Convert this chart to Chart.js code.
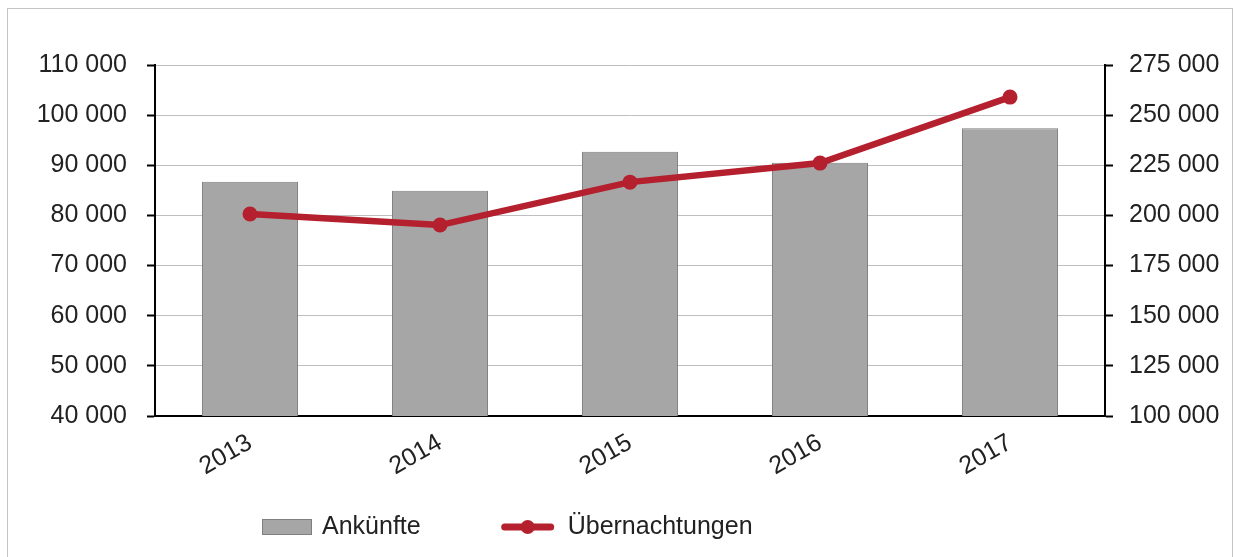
<!DOCTYPE html>
<html>
<head>
<meta charset="utf-8">
<script src="https://cdn.jsdelivr.net/npm/chart.js@4"></script>
<style>
body { margin: 0; background: #fff; }
#frame { position: absolute; left: 7px; top: 8px; width: 1224px; height: 570px; border: 1px solid #c4c4c4; }
#wrap { position: absolute; left: 0; top: 0; width: 1236px; height: 557px; }
</style>
</head>
<body>
<div id="frame"></div>
<div id="wrap"><canvas id="chart"></canvas></div>
<script>
// values
const years = ["2013", "2014", "2015", "2016", "2017"];
const arrivals = [86700, 84900, 92700, 90500, 97400];
const overnights = [200700, 195200, 216600, 226100, 259000];
const seriesNames = ["Ankünfte", "Übernachtungen"];

const barGrey = "#a6a6a6";
const lineRed = "#b5202e";
const font = { family: "'Liberation Sans', Arial, sans-serif", size: 25 };

function spaced(v) {
    return String(v).replace(/\B(?=(\d{3})+(?!\d))/g, " ");
}

// legend drawn under the axis, like the original office chart
const bottomLegend = {
    id: "bottomLegend",
    afterDraw(chart) {
        const ctx = chart.ctx;
        const y = chart.height - 30;
        let x = 262;
        ctx.save();
        ctx.font = font.size + "px " + font.family;
        ctx.textBaseline = "middle";

        ctx.fillStyle = barGrey;
        ctx.fillRect(x, y - 8, 50, 16);
        ctx.strokeStyle = "#7f7f7f";
        ctx.lineWidth = 1;
        ctx.strokeRect(x + 0.5, y - 7.5, 49, 15);
        ctx.fillStyle = "#222";
        ctx.fillText(seriesNames[0], x + 60, y);
        x += 60 + ctx.measureText(seriesNames[0]).width + 82;

        ctx.strokeStyle = lineRed;
        ctx.lineWidth = 7;
        ctx.lineCap = "round";
        ctx.beginPath();
        ctx.moveTo(x + 2, y);
        ctx.lineTo(x + 48, y);
        ctx.stroke();
        ctx.fillStyle = lineRed;
        ctx.beginPath();
        ctx.arc(x + 25, y, 7, 0, Math.PI * 2);
        ctx.fill();
        ctx.fillStyle = "#222";
        ctx.fillText(seriesNames[1], x + 65, y);
        ctx.restore();
    }
};

new Chart(document.getElementById("chart"), {
type: "bar",
data: {
    labels: years,
    datasets: [{
        type: "line",
        label: seriesNames[1],
        data: overnights,
        yAxisID: "y2",
        borderColor: lineRed,
        backgroundColor: lineRed,
        borderWidth: 6.5,
        pointRadius: 7.5,
        pointBackgroundColor: lineRed,
        pointBorderWidth: 0,
        tension: 0,
        order: 0
    }, {
        label: seriesNames[0],
        data: arrivals,
        yAxisID: "y",
        backgroundColor: barGrey,
        borderColor: "#7f7f7f",
        borderWidth: 1,
        barPercentage: 0.505,
        categoryPercentage: 1,
        order: 1
    }]
},
options: {
    responsive: true,
    maintainAspectRatio: false,
    animation: false,
    layout: { padding: { top: 65, left: 0, right: 0, bottom: 61 } },
    plugins: {
        legend: { display: false },
        tooltip: { enabled: false }
    },
    scales: {
        x: {
            grid: { display: false },
            border: { color: "#000", width: 2 },
            ticks: { color: "#222", font: font, maxRotation: 30, minRotation: 30, padding: 4 },
            afterFit(scale) { scale.height = 80; }
        },
        y: {
            position: "left",
            min: 40000,
            max: 110000,
            grid: { color: "#bfbfbf", lineWidth: 1, tickLength: 8, tickColor: "#000", tickWidth: 2 },
            border: { color: "#000", width: 2 },
            ticks: { stepSize: 10000, color: "#222", font: font, padding: 20, callback: spaced },
            afterFit(scale) { scale.width = 155; }
        },
        y2: {
            position: "right",
            min: 100000,
            max: 275000,
            grid: { drawOnChartArea: false, tickLength: 8, tickColor: "#000", tickWidth: 2 },
            border: { color: "#000", width: 2 },
            ticks: { stepSize: 25000, color: "#222", font: font, padding: 16, callback: spaced },
            afterFit(scale) { scale.width = 131; }
        }
    }
},
plugins: [bottomLegend]
});
</script>
</body>
</html>
